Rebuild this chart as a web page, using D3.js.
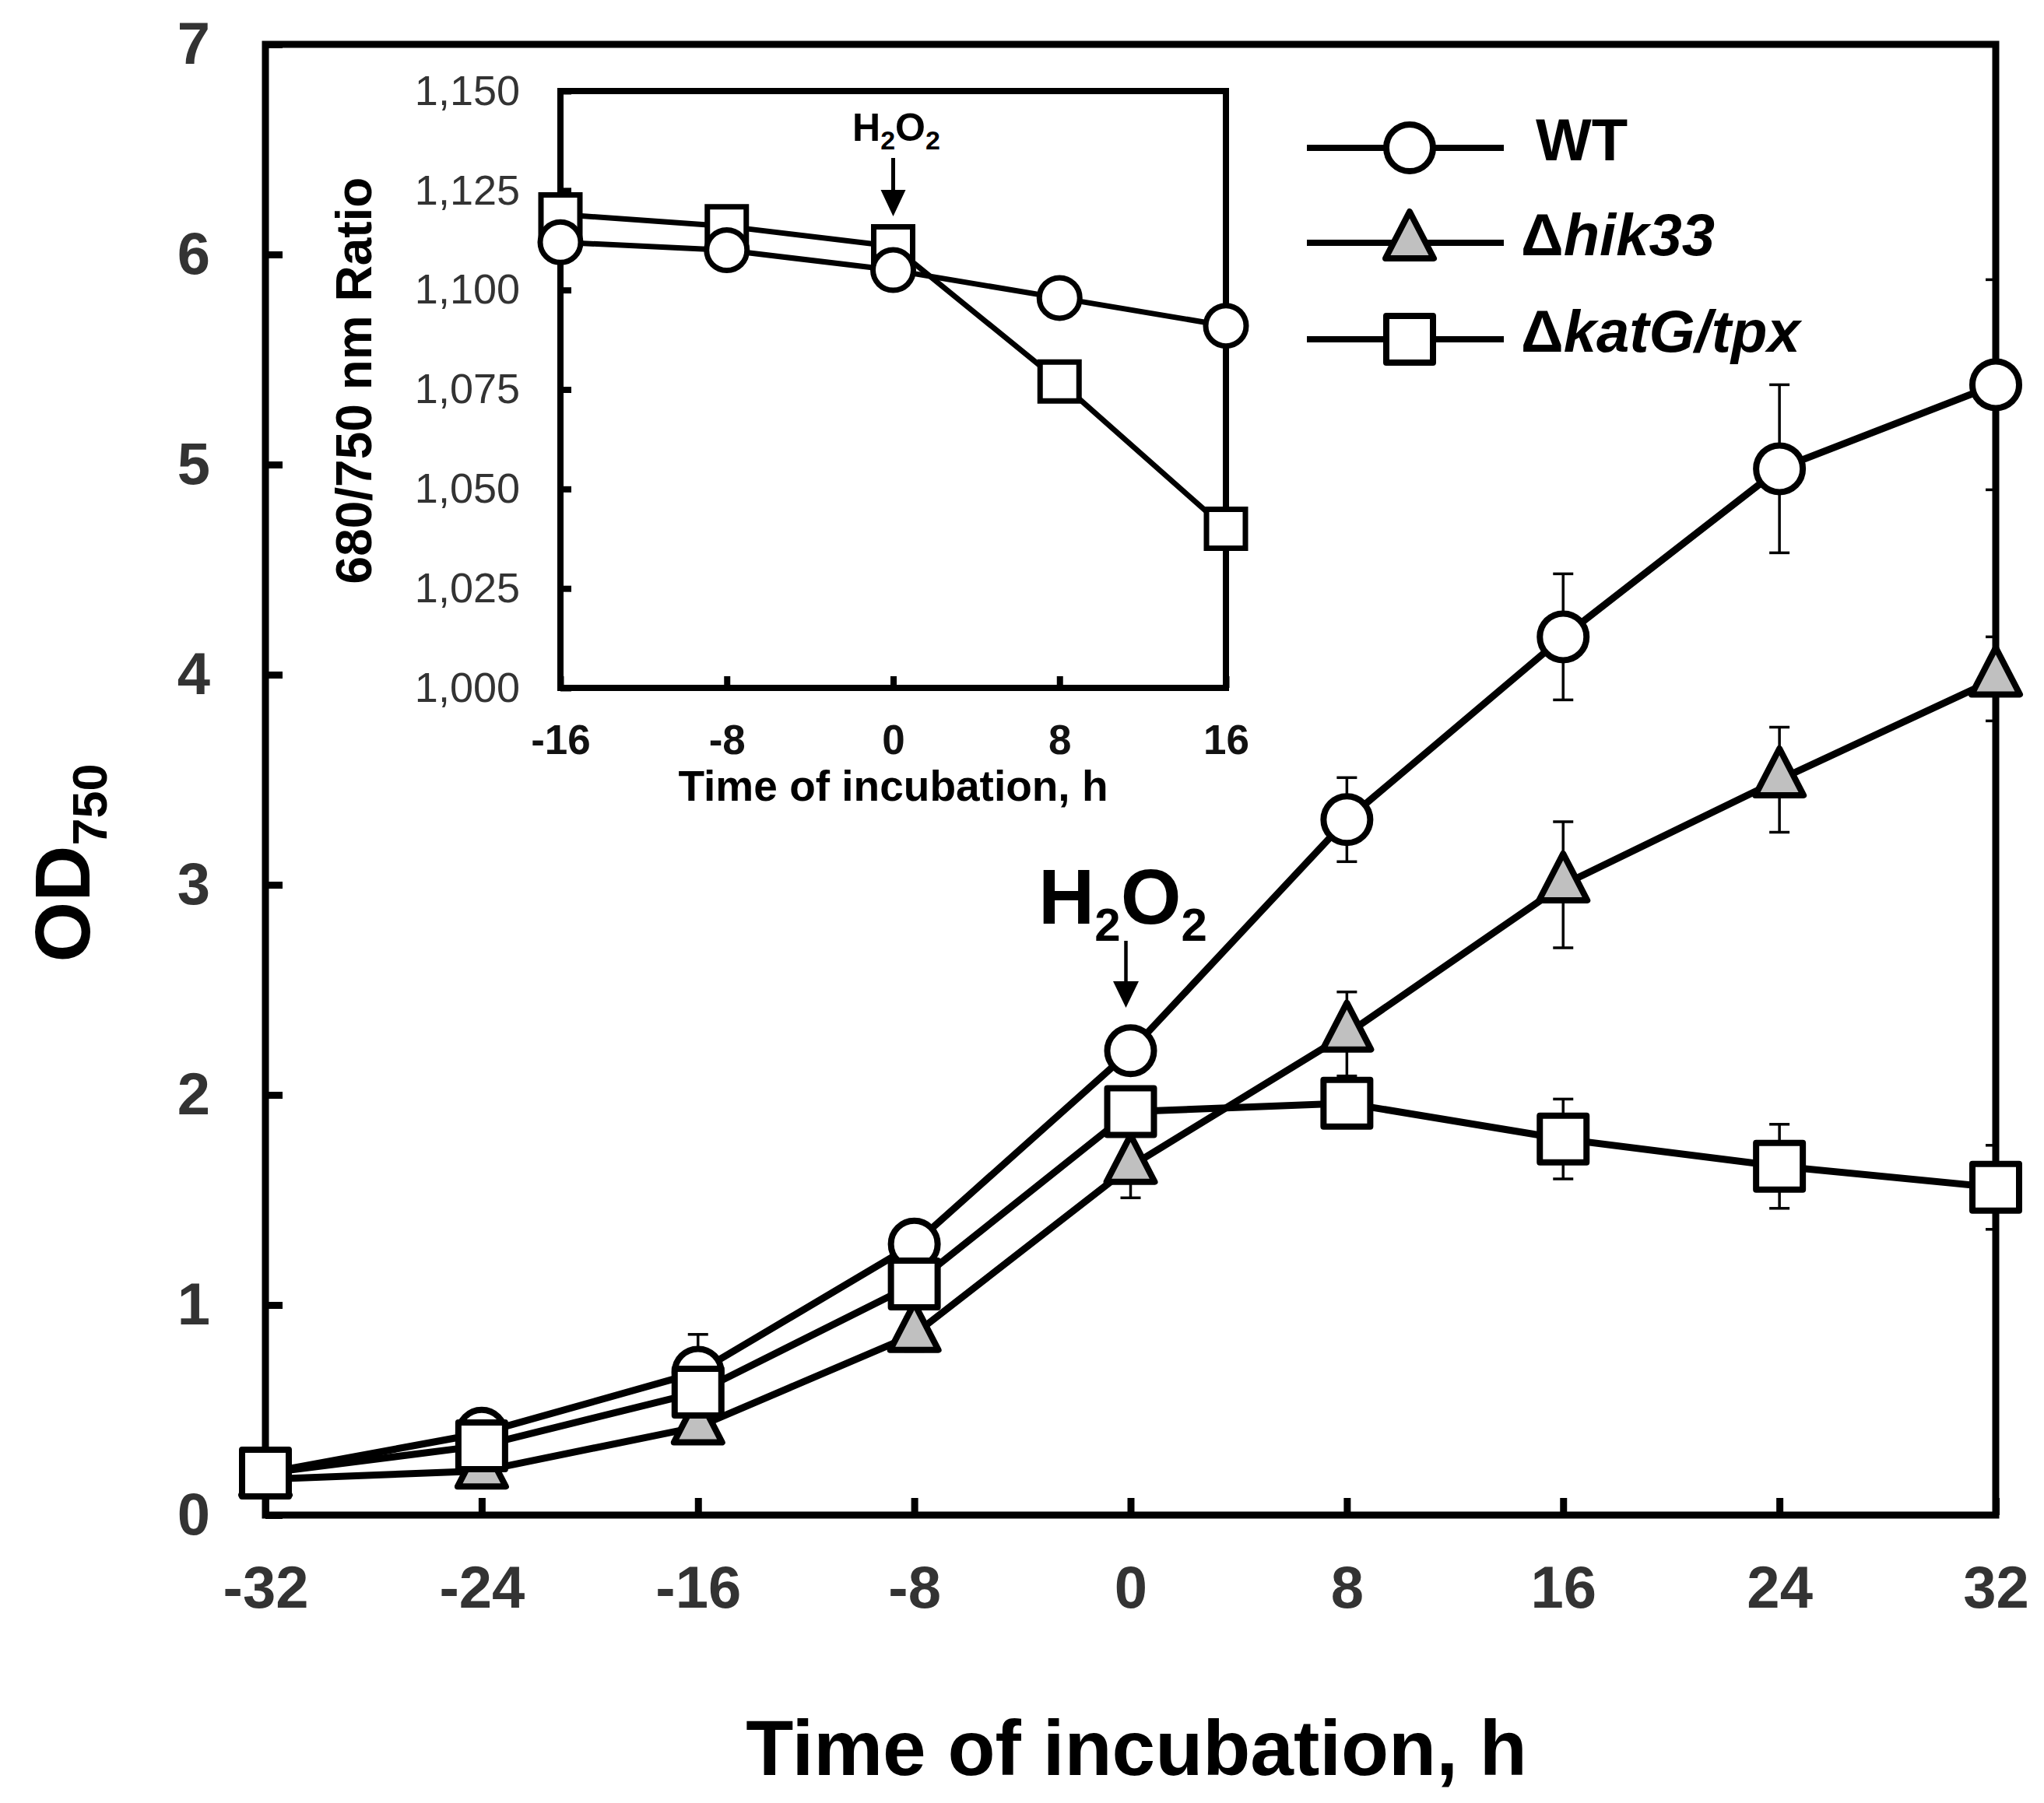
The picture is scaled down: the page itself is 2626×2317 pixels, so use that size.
<!DOCTYPE html>
<html>
<head>
<meta charset="utf-8">
<script src="https://cdn.jsdelivr.net/npm/d3@7"></script>
<style>
  body { margin: 0; background: #fff; }
  svg { display: block; }
  text { font-family: "Liberation Sans", Arial, sans-serif; }
</style>
</head>
<body>
<div id="chart"></div>
<script>
// main plot data: OD750 vs time of incubation (h)
const times = [-32, -24, -16, -8, 0, 8, 16, 24, 32];
const wtOD = [0.20, 0.39, 0.68, 1.29, 2.21, 3.31, 4.18, 4.98, 5.38];
const wtErr = [0.03, 0.04, 0.18, 0.06, 0.08, 0.20, 0.30, 0.40, 0.50];
const hikOD = [0.17, 0.21, 0.42, 0.86, 1.66, 2.29, 3.00, 3.50, 3.98];
const hikErr = [0.02, 0.03, 0.05, 0.08, 0.15, 0.20, 0.30, 0.25, 0.20];
const katOD = [0.20, 0.33, 0.585, 1.10, 1.92, 1.96, 1.79, 1.66, 1.56];
const katErr = [0.02, 0.03, 0.05, 0.06, 0.08, 0.08, 0.19, 0.20, 0.20];
const odTicks = [0, 1, 2, 3, 4, 5, 6, 7];
const timeTicks = [-32, -24, -16, -8, 0, 8, 16, 24, 32];

// inset data: 680/750 nm ratio
const insetTimes = [-16, -8, 0, 8, 16];
const wtRatio = [1.112, 1.110, 1.105, 1.098, 1.091];
const katRatio = [1.119, 1.116, 1.111, 1.077, 1.040];
const ratioTicks = [1.000, 1.025, 1.050, 1.075, 1.100, 1.125, 1.150];

const W = 2626, H = 2317;
const svg = d3.select('#chart').append('svg')
    .attr('width', W).attr('height', H);

const x = d3.scaleLinear().domain([-32, 32]).range([341, 2564]);
const y = d3.scaleLinear().domain([0, 7]).range([1947, 57]);

// plain hyphen for negatives, like the original figure
const plain = d => String(d);

const circle = r => d3.symbol(d3.symbolCircle, Math.PI * r * r)();
const square = s => `M${-s / 2},${-s / 2}h${s}v${s}h${-s}Z`;
const triangle = (w, h) => `M0,${-h * 2 / 3}L${w / 2},${h / 3}L${-w / 2},${h / 3}Z`;

const series = [
    { name: 'WT', values: wtOD, err: wtErr, shape: circle(30), fill: '#fff' },
    { name: 'hik33', values: hikOD, err: hikErr, shape: triangle(62, 60), fill: '#c0c0c0' },
    { name: 'katG/tpx', values: katOD, err: katErr, shape: square(60), fill: '#fff' }
];

// axes (ticks inside, labels gray)
const yAxis = svg.append('g')
    .attr('transform', `translate(${x(-32)},0)`)
    .call(d3.axisLeft(y).tickValues(odTicks).tickSize(-22).tickPadding(71).tickFormat(plain));
const xAxis = svg.append('g')
    .attr('transform', `translate(0,${y(0)})`)
    .call(d3.axisBottom(x).tickValues(timeTicks).tickSize(-22).tickPadding(65).tickFormat(plain));

[yAxis, xAxis].forEach(a => {
    a.select('.domain').remove();
    a.selectAll('.tick line').attr('stroke', '#000').attr('stroke-width', 9);
    a.selectAll('.tick text')
        .attr('fill', '#333')
        .style('font-size', '76px')
        .style('font-weight', 'bold')
        .style('font-family', '"Liberation Sans", Arial, sans-serif');
});

svg.append('rect')
    .attr('x', x(-32)).attr('y', y(7))
    .attr('width', x(32) - x(-32)).attr('height', y(0) - y(7))
    .attr('fill', 'none').attr('stroke', '#000').attr('stroke-width', 9);

// axis titles
svg.append('text')
    .attr('x', 1460).attr('y', 2281)
    .attr('text-anchor', 'middle')
    .style('font-size', '100px').style('font-weight', 'bold')
    .text('Time of incubation, h');

const yt = svg.append('text')
    .attr('transform', 'translate(115,1109) rotate(-90)')
    .attr('text-anchor', 'middle')
    .style('font-size', '100px').style('font-weight', 'bold');
yt.append('tspan').text('OD');
yt.append('tspan').attr('dy', 22).style('font-size', '63px').text('750');

// error bars, clipped to the plot area
svg.append('clipPath').attr('id', 'plotClip').append('rect')
    .attr('x', x(-32)).attr('y', y(7))
    .attr('width', x(32) - x(-32)).attr('height', y(0) - y(7));

const errG = svg.append('g').attr('clip-path', 'url(#plotClip)')
    .attr('stroke', '#000').attr('stroke-width', 3.5);
series.forEach(s => {
    s.values.forEach((v, i) => {
        const cx = x(times[i]);
        const y0 = y(v - s.err[i]), y1 = y(v + s.err[i]);
        errG.append('line').attr('x1', cx).attr('x2', cx).attr('y1', y0).attr('y2', y1);
        errG.append('line').attr('x1', cx - 13).attr('x2', cx + 13).attr('y1', y0).attr('y2', y0);
        errG.append('line').attr('x1', cx - 13).attr('x2', cx + 13).attr('y1', y1).attr('y2', y1);
    });
});

// lines and markers, one series after the other
const line = d3.line().x((d, i) => x(times[i])).y(d => y(d));
series.forEach(s => {
    svg.append('path')
        .datum(s.values)
        .attr('d', line)
        .attr('fill', 'none').attr('stroke', '#000')
        .attr('stroke-width', 9).attr('stroke-linejoin', 'round');
    svg.append('g').selectAll('path')
        .data(s.values)
        .join('path')
        .attr('transform', (d, i) => `translate(${x(times[i])},${y(d)})`)
        .attr('d', s.shape)
        .attr('fill', s.fill).attr('stroke', '#000').attr('stroke-width', 8)
        .attr('stroke-linejoin', 'round');
});

// H2O2 marker at t = 0
function h2o2(g, cx, baseline, size, sub, shift) {
    const t = g.append('text')
        .attr('x', cx).attr('y', baseline)
        .attr('text-anchor', 'middle')
        .style('font-size', size + 'px').style('font-weight', 'bold');
    t.append('tspan').text('H');
    t.append('tspan').attr('dy', shift).style('font-size', sub + 'px').text('2');
    t.append('tspan').attr('dy', -shift).text('O');
    t.append('tspan').attr('dy', shift).style('font-size', sub + 'px').text('2');
}
function arrow(g, cx, y0, y1, head, hw, sw) {
    g.append('line').attr('x1', cx).attr('x2', cx).attr('y1', y0).attr('y2', y1 - head + 2)
        .attr('stroke', '#000').attr('stroke-width', sw);
    g.append('path')
        .attr('d', `M${cx - hw / 2},${y1 - head}L${cx + hw / 2},${y1 - head}L${cx},${y1}Z`)
        .attr('fill', '#000');
}
h2o2(svg, x(0) - 10, 1187, 100, 60, 22);
arrow(svg, x(0) - 6, 1209, 1295, 34, 33, 4.5);

// legend
const legendRows = [190, 312, 436];
const lg = svg.append('g');
series.forEach((s, i) => {
    const ry = legendRows[i];
    lg.append('line').attr('x1', 1679).attr('x2', 1932).attr('y1', ry).attr('y2', ry)
        .attr('stroke', '#000').attr('stroke-width', 8);
    lg.append('path').attr('transform', `translate(1811,${ry})`)
        .attr('d', s.shape)
        .attr('fill', s.fill).attr('stroke', '#000').attr('stroke-width', 8)
        .attr('stroke-linejoin', 'round');
    const t = lg.append('text')
        .attr('x', i === 0 ? 1973 : 1954).attr('y', ry + 16)
        .style('font-size', '76px').style('font-weight', 'bold');
    if (i === 0) {
        t.text(s.name);
    } else {
        t.append('tspan').text('\u0394');
        t.append('tspan').style('font-style', 'italic').text(s.name);
    }
});

// inset
const xi = d3.scaleLinear().domain([-16, 16]).range([720, 1575]);
const yi = d3.scaleLinear().domain([1.0, 1.15]).range([884, 117]);
const commaFmt = d3.formatLocale({ decimal: ',', thousands: '.', grouping: [3], currency: ['', ''] }).format('.3f');

const ins = svg.append('g');
ins.append('rect')
    .attr('x', xi(-16)).attr('y', yi(1.15))
    .attr('width', xi(16) - xi(-16)).attr('height', yi(1.0) - yi(1.15))
    .attr('fill', '#fff');

const yiAxis = ins.append('g')
    .attr('transform', `translate(${xi(-16)},0)`)
    .call(d3.axisLeft(yi).tickValues(ratioTicks).tickSize(-14).tickPadding(52).tickFormat(commaFmt));
yiAxis.select('.domain').remove();
yiAxis.selectAll('.tick line').attr('stroke', '#000').attr('stroke-width', 8);
yiAxis.selectAll('.tick text')
    .attr('fill', '#333')
    .style('font-size', '54px')
    .style('font-family', '"Liberation Sans", Arial, sans-serif');

const xiAxis = ins.append('g')
    .attr('transform', `translate(0,${yi(1.0)})`)
    .call(d3.axisBottom(xi).tickValues(insetTimes).tickSize(-15).tickPadding(47).tickFormat(plain));
xiAxis.select('.domain').remove();
xiAxis.selectAll('.tick line').attr('stroke', '#000').attr('stroke-width', 8);
xiAxis.selectAll('.tick text')
    .attr('fill', '#111')
    .style('font-size', '53px').style('font-weight', 'bold')
    .style('font-family', '"Liberation Sans", Arial, sans-serif');

ins.append('rect')
    .attr('x', xi(-16)).attr('y', yi(1.15))
    .attr('width', xi(16) - xi(-16)).attr('height', yi(1.0) - yi(1.15))
    .attr('fill', 'none').attr('stroke', '#000').attr('stroke-width', 8);

ins.append('text')
    .attr('x', xi(0)).attr('y', 1029)
    .attr('text-anchor', 'middle')
    .style('font-size', '55px').style('font-weight', 'bold')
    .text('Time of incubation, h');

ins.append('text')
    .attr('transform', 'translate(477,489) rotate(-90)')
    .attr('text-anchor', 'middle')
    .style('font-size', '64px').style('font-weight', 'bold')
    .text('680/750 nm Ratio');

const insetSeries = [
    { values: katRatio, shape: square(50) },
    { values: wtRatio, shape: circle(26) }
];
const iline = d3.line().x((d, i) => xi(insetTimes[i])).y(d => yi(d));
insetSeries.forEach(s => {
    ins.append('path').datum(s.values).attr('d', iline)
        .attr('fill', 'none').attr('stroke', '#000')
        .attr('stroke-width', 7).attr('stroke-linejoin', 'round');
    ins.append('g').selectAll('path')
        .data(s.values)
        .join('path')
        .attr('transform', (d, i) => `translate(${xi(insetTimes[i])},${yi(d)})`)
        .attr('d', s.shape)
        .attr('fill', '#fff').attr('stroke', '#000').attr('stroke-width', 7);
});

h2o2(ins, xi(0) + 4, 181, 50, 34, 11);
arrow(ins, xi(0), 203, 278, 34, 32, 5);
</script>
</body>
</html>
